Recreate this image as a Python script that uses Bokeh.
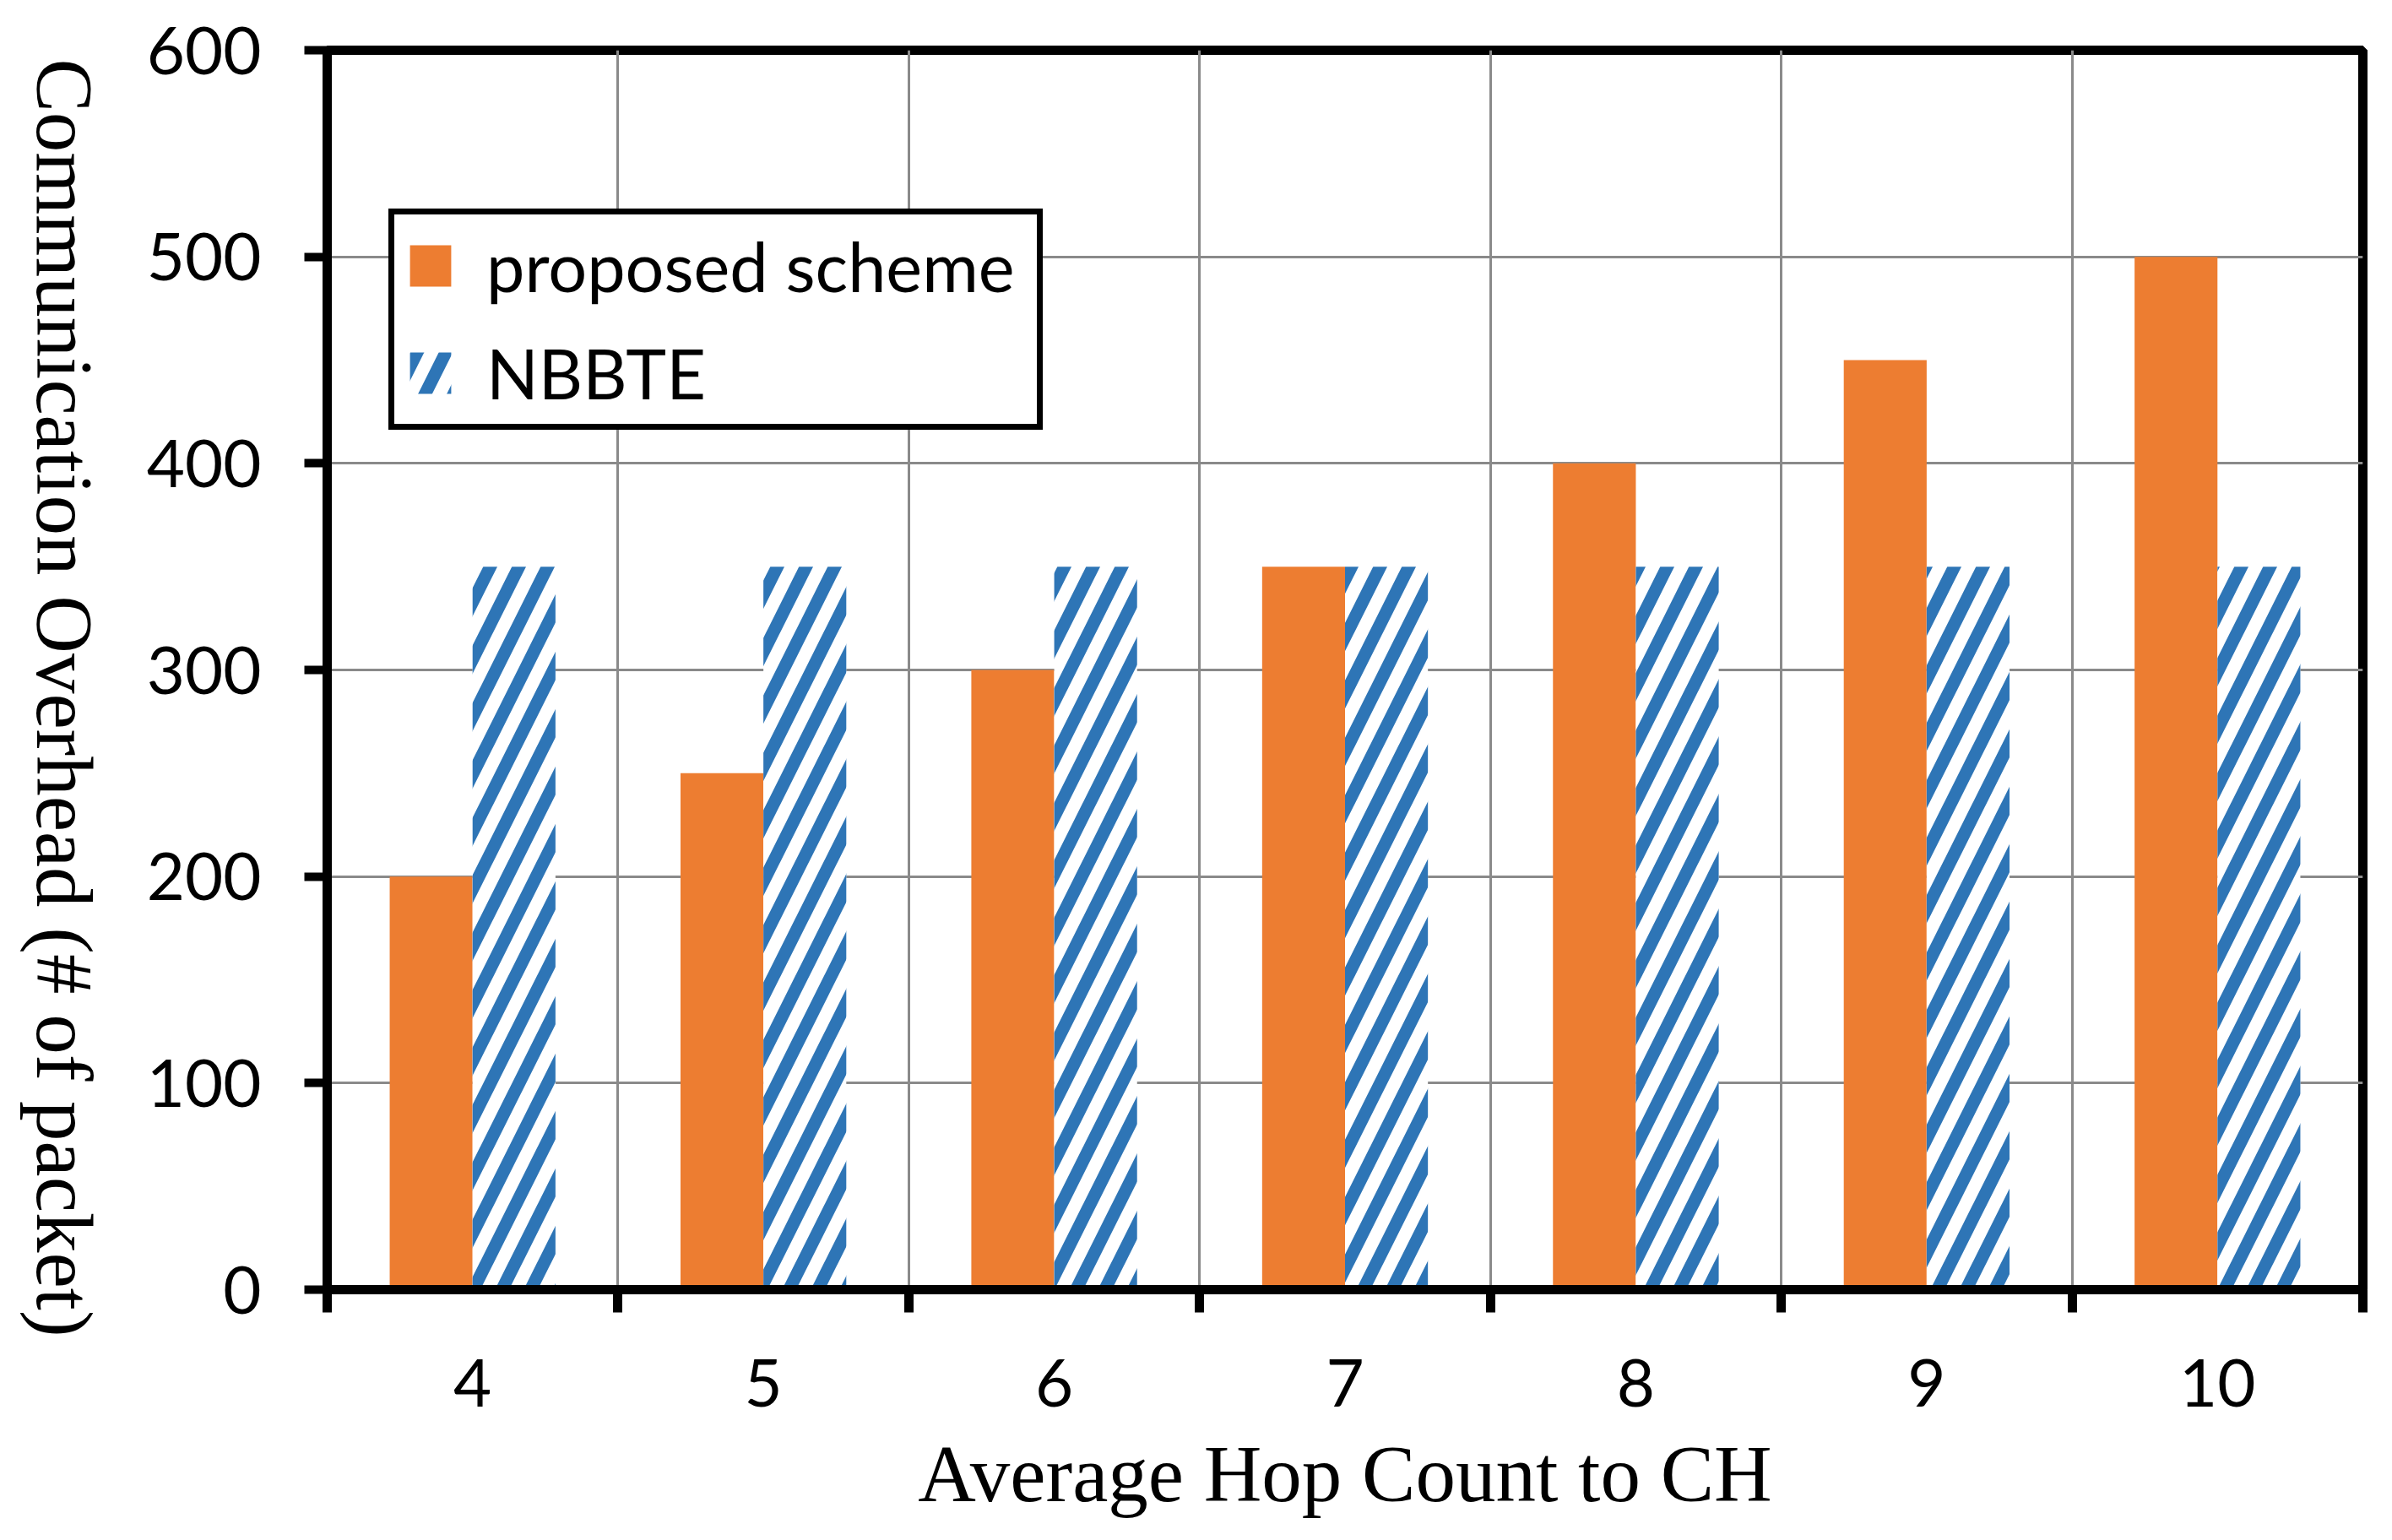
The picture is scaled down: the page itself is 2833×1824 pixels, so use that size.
import numpy as np
from bokeh.plotting import figure
from bokeh.layouts import row
from bokeh.models import ColumnDataSource, FixedTicker, Range1d, Legend, LegendItem
from bokeh.transform import dodge
from bokeh.core.properties import value
from bokeh.embed import file_html
from bokeh.resources import INLINE

# ---- data ----
hop_counts = ["4", "5", "6", "7", "8", "9", "10"]
proposed_scheme = [200, 250, 300, 350, 400, 450, 500]
nbbte = [350, 350, 350, 350, 350, 350, 350]
y_ticks = [0, 100, 200, 300, 400, 500, 600]

n = len(hop_counts)
x_pos = [i + 0.5 for i in range(n)]
boundaries = list(range(n + 1))

src = ColumnDataSource(dict(x=x_pos, hop=hop_counts,
                            proposed=proposed_scheme, nbbte=nbbte))

ORANGE = "#ED7D31"
BLUE = "#2E75B6"
GRID = "#8A8A8A"
TICK_FONT = "Lato"
SERIF = "Liberation Serif"
Y_TITLE = "Communication Overhead (# of packet)"

H = 1814
TW = 150  # width of the strip holding the vertical y title
TOP, BOTTOM = 59, 287

# ---- strip with the y-axis title (reads top to bottom) ----
tfig = figure(width=TW, height=H, output_backend="svg", toolbar_location=None,
              x_axis_type=None, y_axis_type=None,
              min_border_left=0, min_border_right=0, min_border_top=0, min_border_bottom=0)
if "frame_align" in tfig.properties():
    tfig.frame_align = False
    tfig.x_range = Range1d(0, TW)
    tfig.y_range = Range1d(H, 0)
else:
    # frame is aligned with the main chart's frame
    tfig.x_range = Range1d(0, TW)
    tfig.y_range = Range1d(H - BOTTOM, TOP)
tfig.outline_line_color = None
tfig.background_fill_color = "white"
tfig.border_fill_color = "white"
tfig.grid.grid_line_color = None
tfig.text(x=[75], y=[826], text=[Y_TITLE], angle=-np.pi / 2,
          text_align="center", text_baseline="middle",
          text_font=value(SERIF), text_font_size=value("95px"), text_color="black")

# ---- main chart ----
p = figure(width=2825 - TW, height=H, output_backend="svg", toolbar_location=None,
           x_range=Range1d(0, n), y_range=Range1d(0, 600),
           min_border_left=387 - TW, min_border_right=27,
           min_border_top=TOP, min_border_bottom=BOTTOM)
p.background_fill_color = "white"
p.border_fill_color = "white"
p.outline_line_color = "black"
p.outline_line_width = 11

bw = 0.285
r1 = p.vbar(x=dodge("x", -bw / 2, range=p.x_range), top="proposed", width=bw,
            source=src, fill_color=ORANGE, line_color=None)
r2 = p.vbar(x=dodge("x", bw / 2, range=p.x_range), top="nbbte", width=bw,
            source=src, fill_color="white", line_color=None,
            hatch_pattern="/", hatch_color=BLUE, hatch_scale=68, hatch_weight=15)

# grids
p.xgrid.ticker = FixedTicker(ticks=boundaries)
p.ygrid.ticker = FixedTicker(ticks=y_ticks)
for g in (p.xgrid, p.ygrid):
    g.grid_line_color = GRID
    g.grid_line_width = 3

# x axis
xa = p.xaxis[0]
xa.ticker = FixedTicker(ticks=x_pos, minor_ticks=boundaries)
xa.major_label_overrides = {x: h for x, h in zip(x_pos, hop_counts)}
xa.major_tick_in = 0
xa.major_tick_out = 0
xa.minor_tick_in = 0
xa.minor_tick_out = 27
xa.minor_tick_line_width = 11
xa.minor_tick_line_color = "black"
xa.axis_line_width = 11
xa.axis_line_color = "black"
xa.major_label_text_font = TICK_FONT
xa.major_label_text_font_size = "78px"
xa.major_label_text_color = "black"
xa.major_label_standoff = 55
xa.axis_label = "Average Hop Count to CH"
xa.axis_label_text_font = SERIF
xa.axis_label_text_font_size = "95px"
xa.axis_label_text_font_style = "normal"
xa.axis_label_text_color = "black"
xa.axis_label_standoff = 24

# y axis
ya = p.yaxis[0]
ya.ticker = FixedTicker(ticks=y_ticks)
ya.major_tick_in = 0
ya.major_tick_out = 27
ya.major_tick_line_width = 10
ya.major_tick_line_color = "black"
ya.minor_tick_line_color = None
ya.axis_line_width = 11
ya.axis_line_color = "black"
ya.major_label_text_font = TICK_FONT
ya.major_label_text_font_size = "78px"
ya.major_label_text_color = "black"
ya.major_label_standoff = 51

# legend
legend = Legend(items=[LegendItem(label="proposed scheme", renderers=[r1]),
                       LegendItem(label="NBBTE", renderers=[r2])],
                location=(73, 1018), orientation="vertical")
legend.border_line_color = "black"
legend.border_line_alpha = 1.0
legend.border_line_width = 7
legend.background_fill_color = "white"
legend.background_fill_alpha = 1.0
legend.padding = 12
legend.spacing = 30
legend.glyph_width = 61
legend.glyph_height = 61
legend.label_standoff = 36
legend.label_text_font = TICK_FONT
legend.label_text_font_size = "81px"
legend.label_text_color = "black"
legend.label_width = 640
p.add_layout(legend)

layout = row(tfig, p, spacing=0)
open("out.html", "w").write(file_html(layout, INLINE))
